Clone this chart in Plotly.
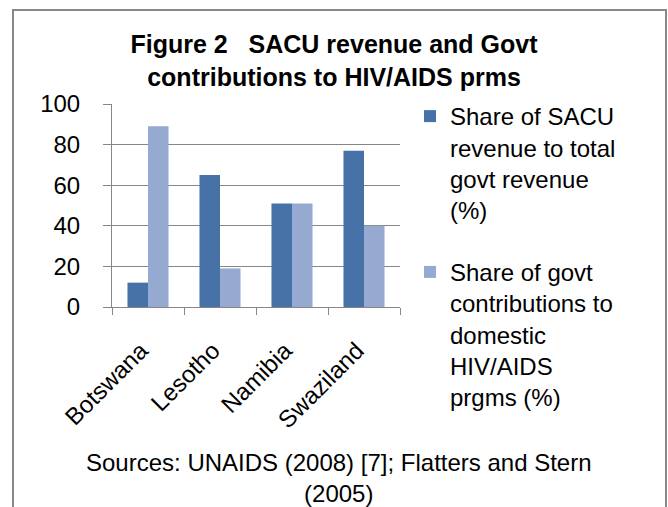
import plotly.graph_objects as go

countries = ["Botswana", "Lesotho", "Namibia", "Swaziland"]
sacu_share = [12, 65, 51, 77]
hiv_share = [89, 19, 51, 40]
series_names = [
    "Share of SACU<br>revenue to total<br>govt revenue<br>(%)",
    "Share of govt<br>contributions to<br>domestic<br>HIV/AIDS<br>prgms (%)",
]
title_text = "<b>Figure 2\u00a0\u00a0 SACU revenue and Govt<br>contributions to HIV/AIDS prms</b>"
source_text = "Sources: UNAIDS (2008) [7]; Flatters and Stern<br>(2005)"

FONT = "Liberation Sans, Arial, sans-serif"
W, H = 668, 507
L, R, T, B = 112, 400, 104, 307  # plot area pixel edges

fig = go.Figure()
fig.add_trace(go.Bar(x=countries, y=sacu_share, name=series_names[0],
                     marker=dict(color="#4672A8", line=dict(width=0)),
                     legendgroup="a"))
fig.add_trace(go.Bar(x=countries, y=hiv_share, name=series_names[1],
                     marker=dict(color="#95A9D1", line=dict(width=0)),
                     legendgroup="b"))

def px_x(p):
    return (p - L) / (R - L)

def px_y(p):
    return (B - p) / (B - T)

fig.update_layout(
    width=W, height=H,
    margin=dict(l=L, r=W - R, t=T, b=H - B, pad=0, autoexpand=False),
    paper_bgcolor="white", plot_bgcolor="white",
    font=dict(family=FONT, color="black", size=24),
    barmode="group", bargap=0.43, bargroupgap=0,
    title=dict(text=title_text, x=0.5, xref="container", xanchor="center",
               y=1 - 53 / H, yref="container", yanchor="middle",
               font=dict(family=FONT, size=25, color="black")),
    legend=dict(x=px_x(410), xanchor="left",
                y=px_y(94), yanchor="top",
                font=dict(family=FONT, size=24, color="black"),
                valign="top", tracegroupgap=28, bgcolor="rgba(0,0,0,0)",
                traceorder="grouped", maxheight=420),
    showlegend=True,
)
fig.update_xaxes(
    showline=True, linecolor="#868686", linewidth=1,
    ticks="outside", tickson="boundaries", ticklen=7, tickcolor="#868686",
    tickangle=-45, tickfont=dict(family=FONT, size=24, color="black"),
    showgrid=False, ticklabelstandoff=19, ticklabelshift=-7, automargin=False,
)
fig.update_yaxes(
    range=[0, 100], dtick=20, tick0=0,
    showline=True, linecolor="#868686", linewidth=1,
    ticks="outside", ticklen=8, tickcolor="#868686",
    showgrid=True, gridcolor="#868686", gridwidth=1,
    zeroline=False, automargin=False,
    tickfont=dict(family=FONT, size=24, color="black"),
    ticklabelstandoff=18,
)
fig.add_annotation(text=source_text, xref="paper", yref="paper",
                   x=px_x(339), y=px_y(478), xanchor="center", yanchor="middle",
                   showarrow=False, align="center",
                   font=dict(family=FONT, size=24, color="black"))
fig.add_shape(type="rect", xref="paper", yref="paper",
              x0=px_x(13), x1=px_x(666), y0=px_y(530), y1=px_y(10),
              line=dict(color="#888888", width=2), fillcolor="rgba(0,0,0,0)",
              layer="below")

fig.write_html("out.html", config={"displayModeBar": False},
               post_script="document.body.style.margin='0';document.body.style.overflow='hidden';")
